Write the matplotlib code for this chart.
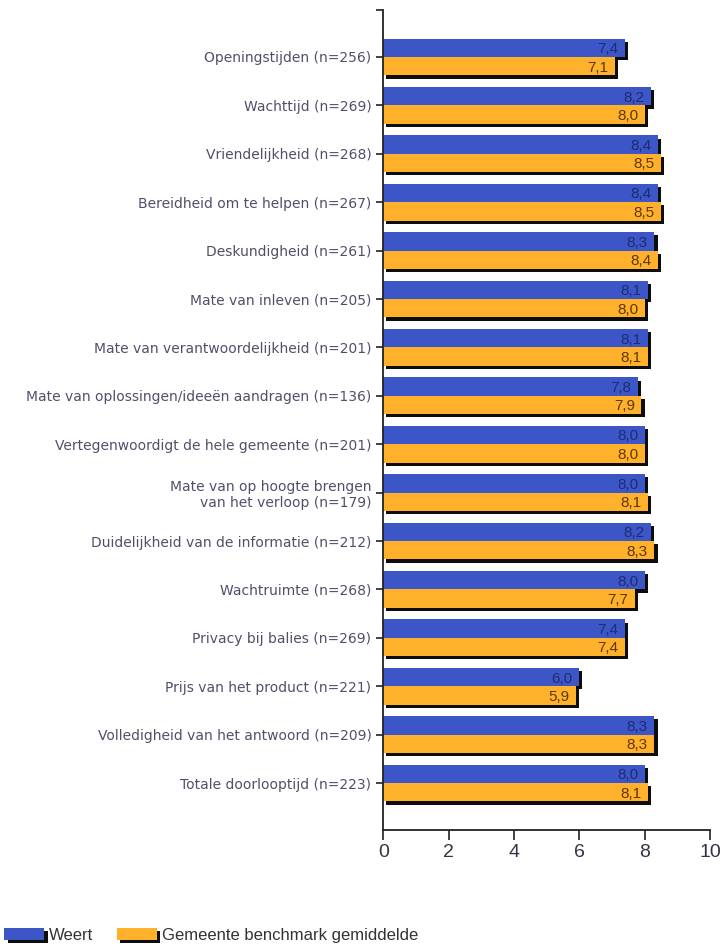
import numpy as np
import matplotlib.pyplot as plt
from matplotlib import patheffects as pe

# categories and scores
labels = [
    "Openingstijden (n=256)",
    "Wachttijd (n=269)",
    "Vriendelijkheid (n=268)",
    "Bereidheid om te helpen (n=267)",
    "Deskundigheid (n=261)",
    "Mate van inleven (n=205)",
    "Mate van verantwoordelijkheid (n=201)",
    "Mate van oplossingen/ideeën aandragen (n=136)",
    "Vertegenwoordigt de hele gemeente (n=201)",
    "Mate van op hoogte brengen\nvan het verloop (n=179)",
    "Duidelijkheid van de informatie (n=212)",
    "Wachtruimte (n=268)",
    "Privacy bij balies (n=269)",
    "Prijs van het product (n=221)",
    "Volledigheid van het antwoord (n=209)",
    "Totale doorlooptijd (n=223)",
]
weert = [7.4, 8.2, 8.4, 8.4, 8.3, 8.1, 8.1, 7.8, 8.0, 8.0, 8.2, 8.0, 7.4, 6.0, 8.3, 8.0]
benchmark = [7.1, 8.0, 8.5, 8.5, 8.4, 8.0, 8.1, 7.9, 8.0, 8.1, 8.3, 7.7, 7.4, 5.9, 8.3, 8.1]
series_names = ["Weert", "Gemeente benchmark gemiddelde"]
xticks = [0, 2, 4, 6, 8, 10]

blue = "#3c56c8"
orange = "#ffb12c"

fig = plt.figure(figsize=(7.23, 9.46), dpi=100)
ax = fig.add_axes([0.530, 0.1226, 0.452, 0.8668])

y = np.arange(len(labels))
h = 0.38


def shadow():
    return [pe.SimplePatchShadow(offset=(2.3, -2.3), shadow_rgbFace="black", alpha=0.95), pe.Normal()]


b1 = ax.barh(y - h / 2, weert, height=h, color=blue, label=series_names[0])
b2 = ax.barh(y + h / 2, benchmark, height=h, color=orange, label=series_names[1])
for bar in list(b1) + list(b2):
    bar.set_path_effects(shadow())

# value labels inside the bar ends
for i in range(len(labels)):
    ax.text(weert[i] - 0.2, y[i] - h / 2 + 0.03, f"{weert[i]:.1f}".replace(".", ","),
            ha="right", va="center", fontsize=11, family="Liberation Sans", color="#1f2c70")
    ax.text(benchmark[i] - 0.2, y[i] + h / 2 + 0.03, f"{benchmark[i]:.1f}".replace(".", ","),
            ha="right", va="center", fontsize=11, family="Liberation Sans", color="#5a3800")

ax.set_xlim(0, 10)
ax.set_ylim(len(labels) - 1 + 0.97, -0.97)
ax.set_xticks(xticks)
ax.set_xticklabels([str(t) for t in xticks], fontsize=14, family="Liberation Sans", color="#333344")
ax.set_yticks(y)
ax.set_yticklabels(labels, fontsize=10, color="#50506a")
ax.set_yticks([-0.97], minor=True)
ax.tick_params(axis="y", which="both", length=5, width=1.2, color="#222222")
ax.tick_params(axis="x", length=7, width=1.2, color="#222222", pad=3)

for s in ["top", "right"]:
    ax.spines[s].set_visible(False)
for s in ["left", "bottom"]:
    ax.spines[s].set_linewidth(1.3)
    ax.spines[s].set_color("#222222")

leg = fig.legend(handles=[b1, b2], labels=series_names, loc="center left",
                 bbox_to_anchor=(0.006, 0.0115), ncol=2, frameon=False,
                 borderaxespad=0, borderpad=0,
                 prop={"family": "Liberation Sans", "size": 12},
                 handlelength=2.4, handleheight=0.8,
                 columnspacing=1.4, handletextpad=0.3)
for t in leg.get_texts():
    t.set_color("#333333")
for p in leg.legend_handles:
    p.set_path_effects(shadow())

fig.savefig("out.png", dpi=100)
